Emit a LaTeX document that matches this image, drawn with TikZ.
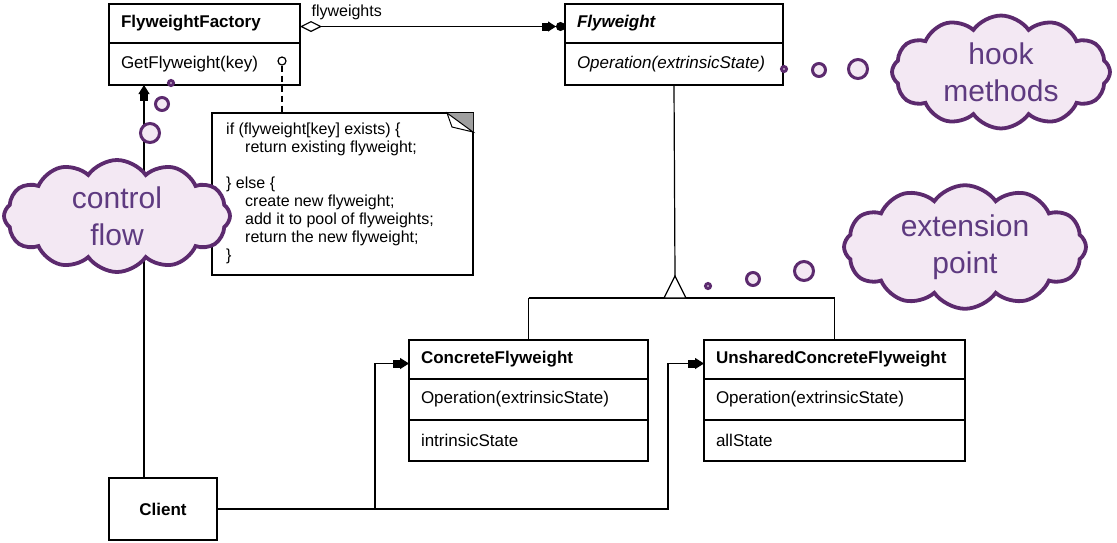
\documentclass[tikz,border=0pt]{standalone}
\usepackage{fontspec}
\setmainfont{Liberation Sans}
\usetikzlibrary{arrows.meta,shapes.symbols,calc}
\definecolor{cloudline}{RGB}{92,42,110}
\definecolor{cloudfill}{RGB}{243,232,243}
\definecolor{cloudtext}{RGB}{94,58,128}
\begin{document}
\begin{tikzpicture}[x=1pt,y=-1pt,
  cmp/.style={draw, line width=1.2pt, outer sep=0pt, anchor=north west, inner xsep=12pt, inner ysep=0pt, align=left, font=\fontsize{17}{20}\selectfont},
  hdr/.style={cmp, font=\fontsize{17}{20}\selectfont\bfseries},
  ihdr/.style={cmp, font=\fontsize{17}{20}\selectfont\bfseries\itshape},
  ibody/.style={cmp, font=\fontsize{17}{20}\selectfont\itshape},
  umlarr/.style={line width=1.2pt, -{Rectangle[length=7pt,width=8pt]Triangle[length=9pt,width=11pt]}},
  assoc/.style={line width=1.2pt, {Diamond[open,length=22pt,width=11pt,line width=1.2pt]}-{Rectangle[length=6pt,width=8pt]Triangle[length=8pt,width=10pt]Circle[length=9pt]}},
  plain/.style={line width=1.2pt},
  dashedline/.style={line width=1.2pt, dash pattern=on 6pt off 4pt},
  thought/.style={cloud, cloud puffs=12, cloud puff arc=110, cloud ignores aspect, draw=cloudline, fill=cloudfill, line width=3.8pt, text=cloudtext, font=\fontsize{30}{37}\selectfont, align=center},
  bub/.style={circle, draw=cloudline, fill=cloudfill, line width=3pt, inner sep=0pt}
]
\useasboundingbox (0,0) rectangle (1117,542);

% FlyweightFactory
\node[hdr, text width=167pt, minimum height=39pt] (ffh) at (109,4) {FlyweightFactory};
\node[cmp, text width=167pt, minimum height=42pt] (ffb) at (ffh.south west) {GetFlyweight(key)};

% Flyweight
\node[ihdr, text width=194pt, minimum height=39pt] (fwh) at (565,4) {Flyweight};
\node[ibody, text width=194pt, minimum height=42pt] (fwb) at (fwh.south west) {Operation(extrinsicState)};

% ConcreteFlyweight
\node[hdr, text width=215pt, minimum height=39pt] (cfh) at (409,340) {ConcreteFlyweight};
\node[cmp, text width=215pt, minimum height=41pt] (cfo) at (cfh.south west) {Operation(extrinsicState)};
\node[cmp, text width=215pt, minimum height=41pt] (cfs) at (cfo.south west) {intrinsicState};

% UnsharedConcreteFlyweight
\node[hdr, text width=237pt, minimum height=39pt] (ufh) at (704,340) {UnsharedConcreteFlyweight};
\node[cmp, text width=237pt, minimum height=41pt] (ufo) at (ufh.south west) {Operation(extrinsicState)};
\node[cmp, text width=237pt, minimum height=41pt] (ufs) at (ufo.south west) {allState};

% Client
\node[draw, line width=1.2pt, outer sep=0pt, anchor=north west, minimum width=108pt, minimum height=62pt, font=\fontsize{17}{20}\selectfont\bfseries] (client) at (109,478) {Client};

% Note
\node[draw, line width=1.2pt, outer sep=0pt, anchor=north west, minimum width=261pt, minimum height=162pt, inner sep=0pt] (note) at (212,113) {};
\fill[gray!75] (447,113) -- (473,113) -- (473,132) -- cycle;
\draw[line width=1pt, fill=white] (447,113) -- (452,127) -- (473,132) -- cycle;
\node[anchor=north west, inner sep=0pt, align=left, font=\fontsize{16}{17.9}\selectfont] (notetxt) at (226,123)
  {if (flyweight[key] exists) \{\\
   \hspace*{19pt}return existing flyweight;\\[17.9pt]
   \} else \{\\
   \hspace*{19pt}create new flyweight;\\
   \hspace*{19pt}add it to pool of flyweights;\\
   \hspace*{19pt}return the new flyweight;\\
   \}};

% lollipop + dashed line to note
\node[circle, draw, line width=1.2pt, minimum size=8pt, inner sep=0pt, fill=white] (lol) at (282,61) {};
\draw[dashedline] (lol.south) -- (lol.south |- note.north);

% association Factory -> Flyweight
\draw[assoc] ([yshift=-3pt]ffh.east) -- ([yshift=-3pt]fwh.west)
  node[pos=0, anchor=south west, inner sep=0pt, xshift=11pt, yshift=6pt, font=\fontsize{16}{18}\selectfont] (lbl) {flyweights};

% generalization
\coordinate (apex) at (675,276);
\coordinate (bar) at (675,298);
\draw[plain] (fwb.south) -- (apex);
\draw[plain] (cfh.north |- bar) -- (ufh.north |- bar);
\draw[plain, fill=white] ([xshift=-11pt]bar) -- (apex) -- ([xshift=11pt]bar) -- cycle;
\draw[plain] (cfh.north |- bar) -- (cfh.north);
\draw[plain] (ufh.north |- bar) -- (ufh.north);

% client connectors
\coordinate (j1) at (375,511);
\coordinate (j2) at (668,511);
\draw[umlarr] ([xshift=-19pt]client.north) -- ([xshift=-19pt]client.north |- ffb.south);
\draw[umlarr] (client.east) -- (client.east -| j1) |- ([yshift=-4pt]cfh.west);
\draw[umlarr] (client.east -| j1) -- (client.east -| j2) |- ([yshift=-4pt]ufh.west);

% thought clouds
\node[thought, minimum width=218pt, minimum height=94pt] (hook) at (1001,72) {hook\\methods};
\node[thought, minimum width=242pt, minimum height=104pt] (ext) at (965,247) {extension\\point};
\node[thought, minimum width=226pt, minimum height=112pt] (ctrl) at (117,216) {control\\flow};

% bubbles
\node[bub, minimum size=5pt] (hb1) at (784,69) {};
\node[bub, minimum size=13pt] (hb2) at (819,70) {};
\node[bub, minimum size=19pt] (hb3) at (858,69) {};
\node[bub, minimum size=5pt] (eb1) at (708,286) {};
\node[bub, minimum size=13pt] (eb2) at (753,279) {};
\node[bub, minimum size=19pt] (eb3) at (804,271) {};
\node[bub, minimum size=5pt] (cb1) at (171,83) {};
\node[bub, minimum size=13pt] (cb2) at (162,104) {};
\node[bub, minimum size=19pt] (cb3) at (150,133) {};
\end{tikzpicture}
\end{document}
